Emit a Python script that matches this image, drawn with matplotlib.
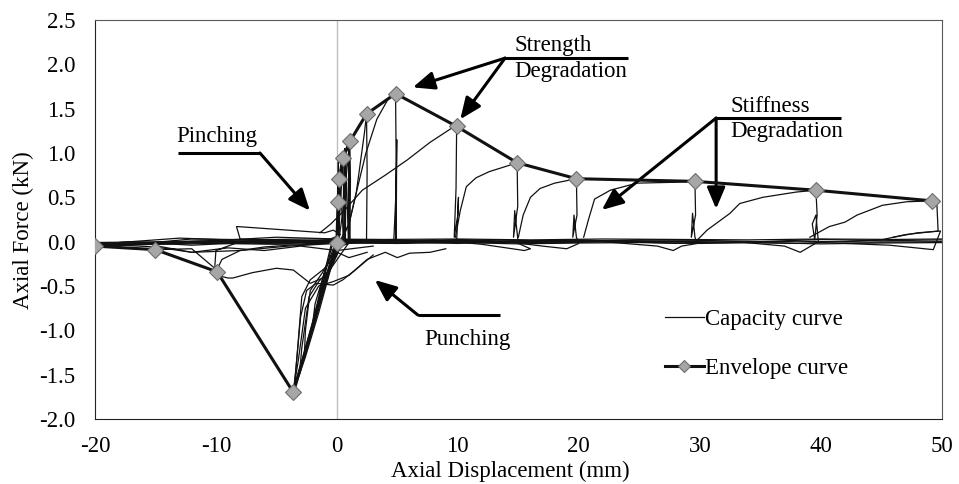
import numpy as np
import matplotlib
matplotlib.use('Agg')
import matplotlib.pyplot as plt

plt.rcParams['font.family'] = ['Liberation Serif', 'DejaVu Serif']
plt.rcParams['font.size'] = 16.5
plt.rcParams['axes.unicode_minus'] = False

# envelope curve, displacement (mm) / force (kN)
env_x = [-20.0, -15.0, -9.9, -3.6, 0.0, 0.1, 0.2, 0.5, 1.07, 2.45, 4.85,
         9.9, 14.9, 19.8, 29.6, 39.6, 49.2]
env_y = [-0.05, -0.09, -0.34, -1.70, -0.01, 0.45, 0.71, 0.94, 1.13, 1.44,
         1.67, 1.30, 0.89, 0.71, 0.68, 0.58, 0.46]

# capacity curve, read cycle by cycle
cyc0_x = [0.05, 0.07, 0.09, 0.12, 0.14, 0.16, 0.6, 0.65, 0.7, 0.75, 0.95, 1.0, 1.05]
cyc0_y = [0.0, 0.7, 0.0, 0.9, 0.0, 0.8, 0.0, 1.05, 0.0, 0.9, 0.0, 1.1, 0.0]
cyc1_x = [-0.3, 0.0, 0.05, 0.10, 0.13, 0.08, -0.5, -1.2, -2.0, -1.8, -1.0, -0.3]
cyc1_y = [-0.02, 0.0, 0.22, 0.45, 0.15, 0.01, -0.05, -0.45, -0.92, -0.70, -0.33, -0.08]
cyc2_x = [-0.2, 0.05, 0.12, 0.2, 0.23, 0.18, -0.4, -1.3, -2.0, -2.7, -2.6, -2.2, -1.2, -0.2]
cyc2_y = [-0.05, 0.0, 0.40, 0.71, 0.35, 0.02, -0.04, -0.55, -0.95, -1.32, -1.0, -0.55, -0.35, -0.1]
cyc3_x = [-0.1, 0.05, 0.3, 0.45, 0.5, 0.55, 0.5, 0.1, -0.6, -1.5, -2.3, -3.1, -2.9, -2.3,
          -1.5, -0.5, 0.1]
cyc3_y = [-0.08, 0.0, 0.45, 0.80, 0.94, 0.6, 0.03, -0.03, -0.25, -0.7, -1.1, -1.5, -1.2, -0.62,
          -0.45, -0.3, -0.05]
cyc4_x = [0.1, 0.5, 0.85, 1.07, 1.12, 1.08, 0.5, -0.5, -1.5, -2.6, -3.6, -3.4, -3.0, -2.5,
          -1.7, -0.3, 0.5, 1.5, 2.5, 4.0, 5.0, 6.0, 7.7, 9.0]
cyc4_y = [-0.05, 0.35, 0.85, 1.13, 0.7, 0.02, 0.0, -0.3, -0.8, -1.3, -1.70, -1.45, -0.85, -0.55,
          -0.47, -0.49, -0.43, -0.32, -0.2, -0.12, -0.18, -0.13, -0.12, -0.08]
cyc5_x = [0.3, 1.0, 1.6, 2.0, 2.3, 2.45, 2.5, 2.45, 1.5, 0.3, -0.8, -1.8, -2.6, -3.5, -3.3,
          -2.9, -2.2, -1.0, 0.0, 1.0, 2.5]
cyc5_y = [0.02, 0.2, 0.55, 0.95, 1.25, 1.44, 0.8, 0.02, 0.0, -0.05, -0.4, -0.9, -1.25, -1.62, -1.3,
          -0.62, -0.43, -0.3, -0.12, -0.18, -0.12]
cyc6_x = [0.5, 1.0, 1.6, 2.4, 3.3, 4.2, 4.85, 4.9, 4.85, 4.7, 4.9, 4.95, 4.9, 3.0, 1.0, -1.0,
          -2.0, -3.0, -3.6, -3.2, -2.6, -1.5, -0.3, 1.0, 3.0]
cyc6_y = [0.05, 0.2, 0.55, 1.0, 1.38, 1.6, 1.67, 0.9, 0.02, 0.0, 0.6, 1.15, 0.0, 0.02, -0.01, -0.4,
          -0.9, -1.4, -1.68, -1.35, -0.75, -0.5, -0.45, -0.38, -0.15]
cyc7_x = [-1.4, -0.5, 0.6, 2.1, 4.0, 5.8, 7.7, 9.6, 9.9, 9.85, 9.7, 10.0, 10.05, 9.9, 8.0, 5.0,
          2.0, 0.0, -2.0, -4.0, -6.0, -8.0, -9.5, -10.0, -9.9, -9.0, -8.6, -7.0, -5.0, -3.6,
          -2.2, -1.0, 0.2]
cyc7_y = [0.1, 0.2, 0.35, 0.58, 0.75, 0.92, 1.12, 1.29, 1.30, 0.6, 0.05, 0.3, 0.5, 0.0, 0.01,
          -0.02, 0.02, 0.0, -0.03, -0.04, -0.06, -0.1, -0.2, -0.34, -0.38, -0.41, -0.41, -0.35,
          -0.3, -0.32, -0.47, -0.4, -0.08]
cyc8_x = [9.8, 10.2, 10.7, 11.5, 12.6, 14.0, 14.9, 14.95, 14.6, 14.7, 14.9, 15.0, 16.0, 15.5,
          12.0, 8.0, 4.0, 0.0, -4.0, -8.0, -10.0, -10.1, -12.0, -15.0, -14.8, -12.0, -9.0,
          -6.0, -3.0, 0.0, 3.0]
cyc8_y = [0.05, 0.35, 0.62, 0.72, 0.79, 0.85, 0.89, 0.4, 0.05, 0.35, 0.1, -0.02, -0.08, -0.1,
          -0.03, 0.02, 0.0, 0.03, -0.02, 0.0, -0.1, -0.3, -0.08, -0.09, -0.05, -0.12, -0.07,
          -0.1, -0.05, -0.1, -0.05]
cyc9_x = [15.0, 15.4, 16.0, 16.8, 18.0, 19.8, 19.85, 19.5, 19.6, 19.8, 20.0, 19.0, 17.0, 14.0,
          10.0, 5.0, 0.0, -5.0, -8.0, -8.3, -8.2, -6.1, -1.0, -0.3, 0.3, -1.0, -6.0, -12.0,
          -16.0, -20.0, -19.0, -15.0, -12.0, -8.0, -4.0, 0.0, 5.0, 10.0, 15.0]
cyc9_y = [0.05, 0.3, 0.5, 0.6, 0.66, 0.71, 0.3, 0.05, 0.3, 0.05, -0.02, -0.08, -0.05, 0.0,
          0.02, -0.02, 0.0, 0.02, 0.03, 0.17, 0.17, 0.15, 0.1, 0.13, 0.08, 0.0, 0.02, 0.03,
          -0.02, -0.05, -0.03, -0.06, -0.12, -0.1, -0.05, -0.02, 0.0, 0.01, 0.0]
cyc10_x = [20.4, 20.8, 21.3, 22.6, 24.8, 28.0, 29.6, 29.65, 29.3, 29.4, 29.6, 29.8, 28.5, 27.8,
           26.5, 22.0, 16.0, 10.0, 4.0, 0.0, -5.0, -10.0, -15.0, -20.0, -18.0, -13.0, -9.0,
           -5.0, 0.0, 5.0, 10.0, 15.0, 20.0]
cyc10_y = [0.05, 0.25, 0.48, 0.58, 0.66, 0.67, 0.68, 0.3, 0.05, 0.32, 0.05, -0.02, -0.05, -0.1,
           -0.05, 0.0, -0.02, 0.02, 0.0, -0.02, 0.02, 0.0, -0.03, -0.04, -0.01, 0.04, 0.02,
           0.05, 0.03, 0.0, -0.02, 0.01, 0.0]
cyc11_x = [29.8, 30.6, 31.5, 32.5, 33.3, 35.2, 38.0, 39.6, 39.7, 39.5, 39.3, 39.6, 39.8, 38.3,
           37.0, 33.0, 28.0, 20.0, 12.0, 4.0, 0.0, -6.0, -12.0, -20.0, -17.0, -12.0, -6.0, 0.0,
           8.0, 16.0, 24.0, 30.0]
cyc11_y = [0.02, 0.13, 0.22, 0.32, 0.43, 0.5, 0.56, 0.58, 0.3, 0.02, 0.2, 0.3, 0.0, -0.12,
           -0.05, 0.0, -0.02, 0.02, -0.01, 0.01, 0.0, -0.02, -0.01, -0.03, 0.0, -0.04, 0.0,
           0.02, 0.0, -0.01, 0.01, 0.0]
cyc12_x = [39.1, 40.7, 42.0, 43.0, 45.1, 47.1, 49.2, 49.6, 49.7, 47.0, 45.0, 42.0, 38.0, 30.0,
           20.0, 10.0, 0.0, -10.0, -20.0]
cyc12_y = [0.05, 0.17, 0.22, 0.3, 0.41, 0.45, 0.46, 0.42, 0.12, 0.08, 0.02, 0.0, -0.02, 0.0,
           0.01, -0.01, 0.0, 0.0, -0.04]
cyc13_x = [42.0, 45.7, 49.3, 49.9, 48.0, 46.0]
cyc13_y = [-0.02, -0.04, -0.09, 0.12, 0.1, 0.05]
# repeated full-amplitude passes forming the band along zero force
cyc14_x = [50.0, 45.0, 40.0, 35.0, 30.0, 25.0, 20.0, 15.0, 10.0, 5.0, 0.0, -5.0, -10.0, -15.0, -20.0]
cyc14_y = [0.02, 0.01, 0.025, 0.0, 0.015, 0.02, 0.0, 0.015, 0.02, 0.0, 0.01, 0.0, 0.01, -0.01, -0.02]
cyc15_x = [-20.0, -15.0, -10.0, -5.0, 0.0, 5.0, 10.0, 15.0, 20.0, 25.0, 30.0, 35.0, 40.0, 45.0, 50.0]
cyc15_y = [-0.04, -0.03, -0.02, -0.03, -0.015, -0.02, -0.01, -0.025, -0.015, -0.01, -0.02, -0.01, -0.025, -0.015, -0.01]
cyc16_x = [50.0, 44.0, 38.0, 32.0, 26.0, 20.0, 14.0, 8.0, 2.0, -4.0, -10.0, -16.0, -20.0]
cyc16_y = [0.0, -0.005, 0.005, -0.01, 0.0, 0.01, -0.005, 0.0, 0.005, -0.01, -0.005, -0.02, -0.03]
cyc17_x = [-20.0, -14.0, -8.0, -2.0, 4.0, 10.0, 16.0, 22.0, 28.0, 34.0, 40.0, 46.0, 50.0]
cyc17_y = [-0.01, 0.0, 0.02, 0.03, 0.025, 0.03, 0.02, 0.03, 0.025, 0.02, 0.03, 0.025, 0.03]

cycles = [(cyc0_x, cyc0_y), (cyc1_x, cyc1_y), (cyc2_x, cyc2_y), (cyc3_x, cyc3_y),
          (cyc4_x, cyc4_y), (cyc5_x, cyc5_y), (cyc6_x, cyc6_y), (cyc7_x, cyc7_y),
          (cyc8_x, cyc8_y), (cyc9_x, cyc9_y), (cyc10_x, cyc10_y), (cyc11_x, cyc11_y),
          (cyc12_x, cyc12_y), (cyc13_x, cyc13_y), (cyc14_x, cyc14_y), (cyc15_x, cyc15_y),
          (cyc16_x, cyc16_y), (cyc17_x, cyc17_y)]

fig = plt.figure(figsize=(9.59, 4.84), dpi=100)
ax = fig.add_axes([0.099, 0.1343, 0.883, 0.8244])

ax.axvline(0, color='#bfbfbf', lw=1, zorder=1)
ax.axhline(0, color='#bfbfbf', lw=1, zorder=1)

for i, (cx, cy) in enumerate(cycles):
    ax.plot(cx, cy, color='#111111', lw=0.9, zorder=2,
            label='Capacity curve' if i == 0 else None)

ax.plot(env_x, env_y, color='#111111', lw=2.2, marker='D', ms=8.5,
        markerfacecolor='#a6a6a6', markeredgecolor='#6e6e6e', markeredgewidth=0.8,
        zorder=4, label='Envelope curve')

ax.set_xlim(-20, 50)
ax.set_ylim(-2.0, 2.5)
ax.set_xticks(np.arange(-20, 51, 10))
ax.set_yticks(np.arange(-2.0, 2.51, 0.5))
ax.set_yticklabels(['%.1f' % v for v in np.arange(-2.0, 2.51, 0.5)])
ax.tick_params(length=0)
ax.tick_params(axis='x', pad=12)
ax.tick_params(axis='y', pad=14)
ax.set_xlabel('Axial Displacement (mm)', labelpad=3)
ax.set_ylabel('Axial Force (kN)', labelpad=4)
ax.xaxis.label.set_x(0.491)
ax.yaxis.label.set_y(0.474)
for s in ['top', 'right']:
    ax.spines[s].set_color('#595959')
for s in ['left', 'bottom']:
    ax.spines[s].set_color('#222222')

# callouts
arrow = dict(arrowstyle='-|>,head_length=1.3,head_width=0.55', mutation_scale=10,
             lw=2.2, color='black', shrinkA=0, shrinkB=0)
kw = dict(color='black', lw=2.2, solid_capstyle='butt', zorder=5)

ax.plot([-13.14, -6.36], [1.0, 1.0], **kw)
ax.annotate('', xy=(-2.23, 0.35), xytext=(-6.36, 1.0), arrowprops=arrow)
ax.text(-13.3, 1.128, 'Pinching', va='baseline', ha='left')

ax.plot([13.9, 24.05], [2.07, 2.07], **kw)
ax.annotate('', xy=(6.28, 1.74), xytext=(13.9, 2.07), arrowprops=arrow)
ax.annotate('', xy=(10.2, 1.38), xytext=(13.9, 2.07), arrowprops=arrow)
ax.text(14.7, 2.15, 'Strength', va='baseline', ha='left')
ax.text(14.7, 1.857, 'Degradation', va='baseline', ha='left')

ax.plot([31.35, 41.65], [1.394, 1.394], **kw)
ax.annotate('', xy=(21.9, 0.357), xytext=(31.35, 1.394), arrowprops=arrow)
ax.annotate('', xy=(31.35, 0.37), xytext=(31.35, 1.394), arrowprops=arrow)
ax.text(32.5, 1.462, 'Stiffness', va='baseline', ha='left')
ax.text(32.5, 1.18, 'Degradation', va='baseline', ha='left')

ax.plot([6.69, 13.47], [-0.827, -0.827], **kw)
ax.annotate('', xy=(3.14, -0.432), xytext=(6.69, -0.827), arrowprops=arrow)
ax.text(7.19, -1.165, 'Punching', va='baseline', ha='left')

ax.legend(loc='upper left', bbox_to_anchor=(0.673, 0.275), frameon=False,
          borderpad=0, borderaxespad=0, handlelength=1.7, handletextpad=0.05,
          labelspacing=1.2, markerscale=0.7)

fig.savefig('out.png', dpi=100)
